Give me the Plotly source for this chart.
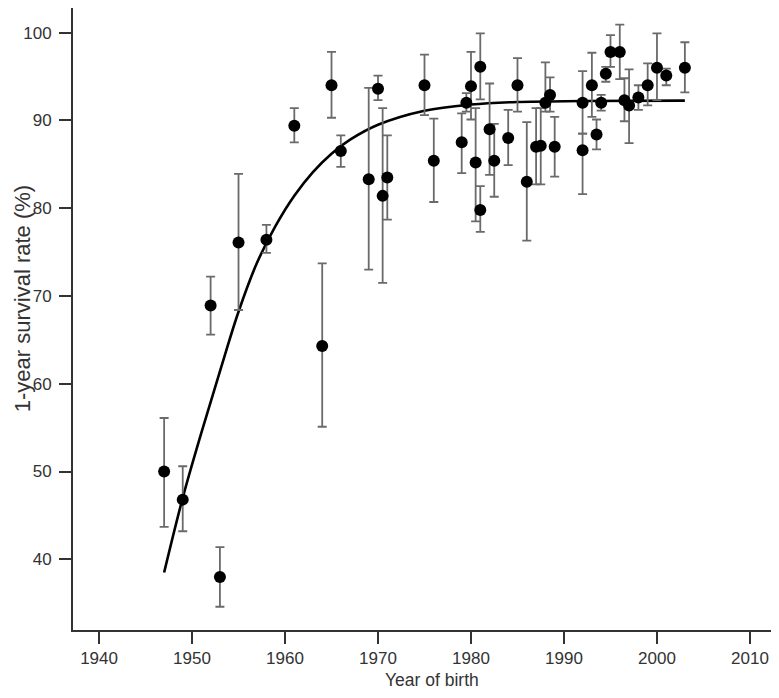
import numpy as np
import plotly.graph_objects as go

# year of birth and 1-year survival rate (%) with the error bar ends
year = [1947, 1949, 1952, 1953, 1955, 1958, 1961, 1964, 1965, 1966,
        1969, 1970, 1970.5, 1971, 1975, 1976, 1979, 1979.5, 1980, 1980.5,
        1981, 1981, 1982, 1982.5, 1984, 1985, 1986, 1987, 1987.5, 1988,
        1988.5, 1989, 1992, 1992, 1993, 1993.5, 1994, 1994.5, 1995, 1996,
        1996.5, 1997, 1998, 1999, 2000, 2001, 2003]
rate = [50.0, 46.8, 68.9, 38.0, 76.1, 76.4, 89.4, 64.3, 94.0, 86.5,
        83.3, 93.6, 81.4, 83.5, 94.0, 85.4, 87.5, 92.0, 93.9, 85.2,
        96.1, 79.8, 89.0, 85.4, 88.0, 94.0, 83.0, 87.0, 87.1, 92.0,
        92.9, 87.0, 92.0, 86.6, 94.0, 88.4, 92.0, 95.3, 97.8, 97.8,
        92.3, 91.7, 92.6, 94.0, 96.0, 95.1, 96.0]
upper = [56.1, 50.6, 72.2, 41.4, 83.9, 78.1, 91.4, 73.7, 97.8, 88.3,
         93.7, 95.1, 91.4, 88.3, 97.5, 90.2, 90.8, 93.1, 97.8, 91.4,
         99.9, 82.5, 94.2, 89.6, 91.2, 97.1, 89.8, 91.4, 91.4, 96.6,
         94.9, 90.4, 95.6, 88.5, 97.7, 90.1, 92.9, 96.1, 99.7, 100.9,
         94.8, 95.8, 94.0, 96.5, 99.9, 95.9, 98.9]
lower = [43.7, 43.2, 65.6, 34.6, 68.4, 74.9, 87.5, 55.1, 90.3, 84.7,
         73.0, 92.3, 71.5, 78.7, 90.6, 80.7, 84.0, 91.0, 90.1, 78.5,
         92.4, 77.3, 83.8, 81.3, 84.9, 91.0, 76.3, 82.7, 82.7, 91.0,
         91.0, 83.6, 88.5, 81.6, 90.4, 86.7, 91.1, 94.4, 96.1, 94.7,
         89.9, 87.4, 91.2, 91.7, 92.3, 94.0, 93.2]

# fitted curve
fit_year = [1947, 1949, 1951, 1953, 1955, 1957, 1959, 1961, 1963, 1965,
            1967, 1970, 1975, 1980, 1985, 1992, 2003]
fit_rate = [38.5, 47.0, 54.4, 61.4, 68.2, 73.8, 78.0, 81.4, 84.1, 86.2,
            87.8, 89.5, 91.1, 91.8, 92.1, 92.2, 92.25]

x_ticks = [1940, 1950, 1960, 1970, 1980, 1990, 2000, 2010]
y_ticks = [40, 50, 60, 70, 80, 90, 100]

r = np.array(rate)
err_up = np.array(upper) - r
err_dn = r - np.array(lower)

fig = go.Figure()

fig.add_trace(go.Scatter(
    x=fit_year, y=fit_rate, mode='lines',
    line=dict(color='black', width=2.6, shape='spline', smoothing=1.0),
    showlegend=False,
))

fig.add_trace(go.Scatter(
    x=year, y=rate, mode='markers',
    marker=dict(color='black', size=12),
    error_y=dict(type='data', symmetric=False, array=err_up, arrayminus=err_dn,
                 color='#6a6a6a', thickness=1.8, width=4.5),
    showlegend=False,
))

fnt = 'Liberation Sans, Arial, sans-serif'
axis_font = dict(family=fnt, size=17, color='#333333')

fig.update_xaxes(
    range=[1937.2, 2012.8], tickvals=x_ticks,
    showgrid=False, zeroline=False, automargin=False,
    showline=True, linecolor='#333333', linewidth=2, mirror=True,
    ticks='outside', ticklen=12, tickwidth=2, tickcolor='#333333',
    tickfont=axis_font, ticklabelstandoff=0,
)
fig.update_yaxes(
    range=[31.95, 102.8], tickvals=y_ticks,
    showgrid=False, zeroline=False, automargin=False,
    showline=True, linecolor='#333333', linewidth=2, mirror=True,
    ticks='outside', ticklen=12, tickwidth=2, tickcolor='#333333',
    tickfont=axis_font, ticklabelstandoff=4,
)

# axis titles
fig.add_annotation(text='Year of birth', xref='paper', yref='paper',
                   x=0.51, y=-0.0805, xanchor='center', yanchor='middle',
                   showarrow=False, font=dict(family=fnt, size=17.5, color='#333333'))
fig.add_annotation(text='1-year survival rate (%)', xref='paper', yref='paper',
                   x=-0.0925, y=0.5325, xanchor='left', yanchor='middle', textangle=-90,
                   showarrow=False, font=dict(family=fnt, size=22, color='#333333'))

# page body adds an 8px offset, so the figure is sized to fit the window
fig.update_layout(
    width=770, height=682,
    margin=dict(l=65, r=2, t=0, b=60),
    plot_bgcolor='white', paper_bgcolor='white',
)

fig.write_html("out.html")
